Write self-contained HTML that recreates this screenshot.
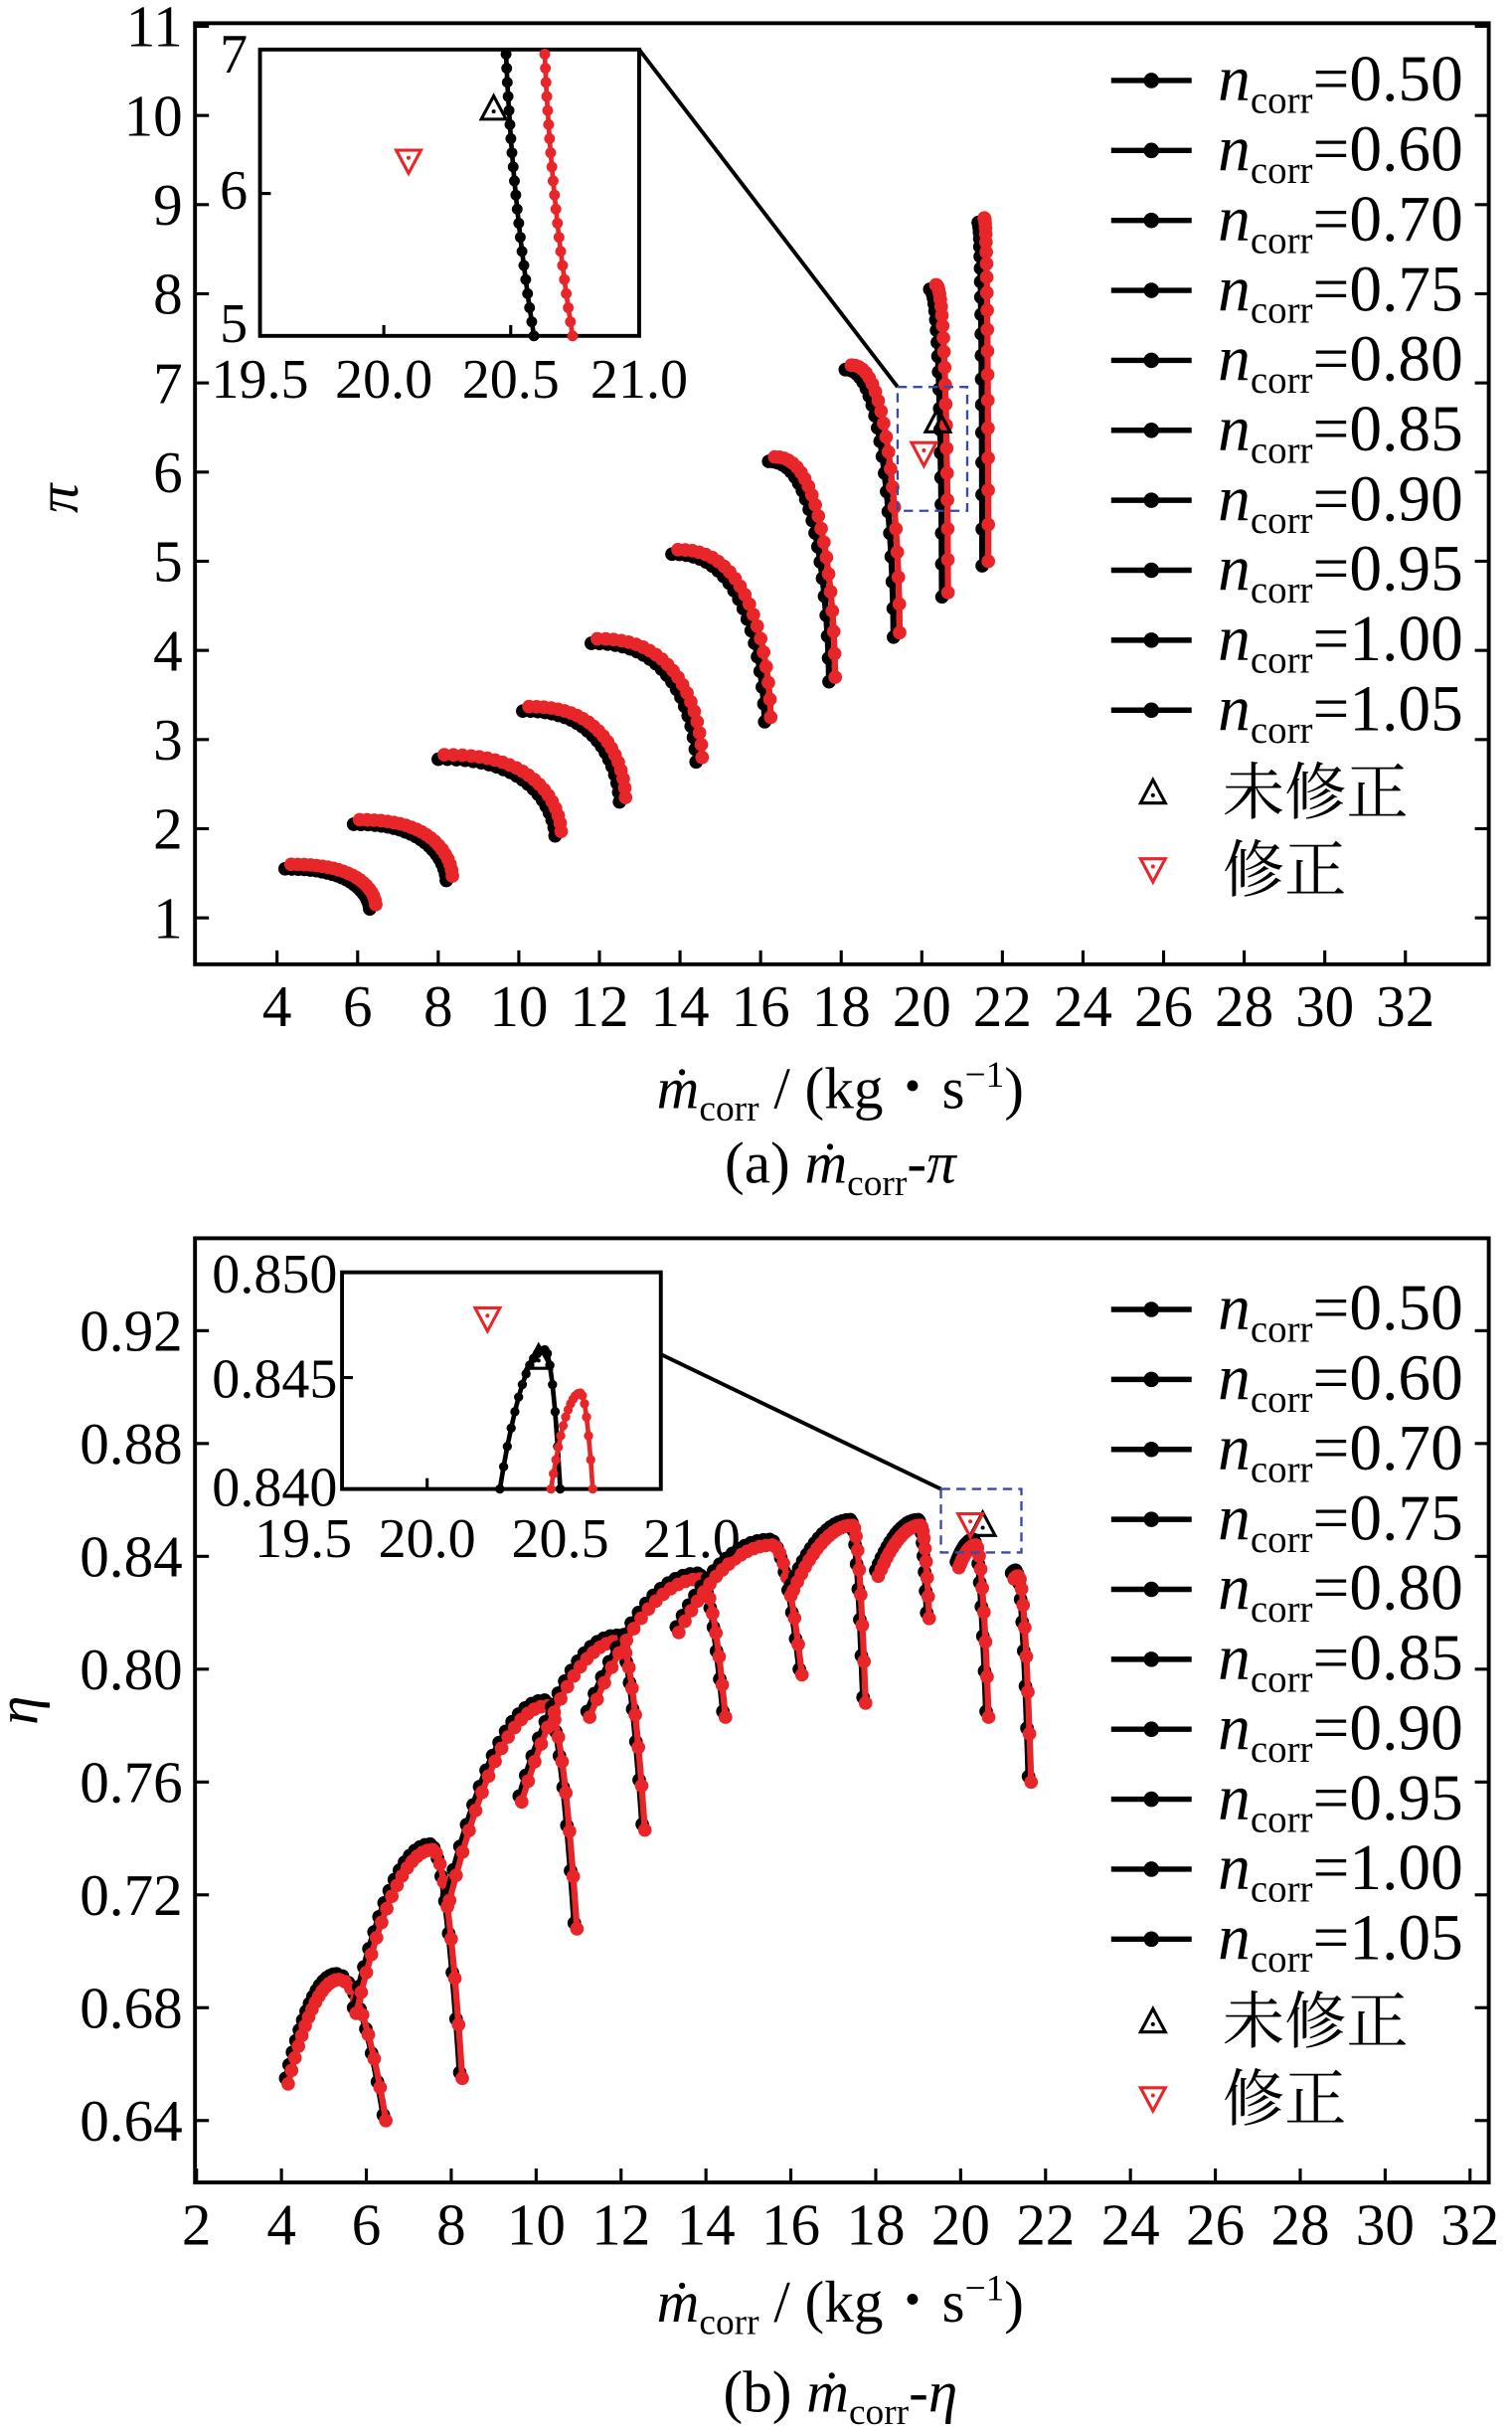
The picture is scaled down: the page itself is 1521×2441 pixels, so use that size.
<!DOCTYPE html>
<html><head><meta charset="utf-8"><style>
html,body{margin:0;padding:0;background:#fff;}
svg{display:block;font-family:"Liberation Serif","Noto Serif CJK SC",serif;}
</style></head><body>
<svg id="s" width="1521" height="2441" viewBox="0 0 977 1568" xmlns="http://www.w3.org/2000/svg"></svg>
<script>
(function(){
var s=document.getElementById('s'),h='';
function L(x1,y1,x2,y2,c,w,extra){h+='<line x1="'+x1+'" y1="'+y1+'" x2="'+x2+'" y2="'+y2+'" stroke="'+(c||'#000')+'" stroke-width="'+(w||2)+'" '+(extra||'')+'/>';}
function T(x,y,t,sz,anc,extra){h+='<text x="'+x+'" y="'+y+'" font-size="'+sz+'" text-anchor="'+(anc||'middle')+'" '+(extra||'')+'>'+t+'</text>';}
function poly(pts,c,w){h+='<polyline fill="none" stroke="'+c+'" stroke-width="'+w+'" stroke-linejoin="round" points="'+pts.map(function(p){return p[0].toFixed(1)+','+p[1].toFixed(1)}).join(' ')+'"/>';}
function marks(pts,c,r,step){for(var i=0;i<pts.length;i+=step)h+='<circle cx="'+pts[i][0].toFixed(1)+'" cy="'+pts[i][1].toFixed(1)+'" r="'+r+'" fill="'+c+'"/>';}
function tri(x,y,c,down){var d=down?'M'+(x-8)+','+(y-7)+' L'+(x+8)+','+(y-7)+' L'+x+','+(y+8)+' Z':'M'+(x-8)+','+(y+7)+' L'+(x+8)+','+(y+7)+' L'+x+','+(y-8)+' Z';h+='<path d="'+d+'" fill="none" stroke="'+c+'" stroke-width="2"/><circle cx="'+x+'" cy="'+(down?y-2:y+2)+'" r="1.3" fill="'+c+'"/>';}
function X1(m){return 179+(m-4)*26.04;} function Y1(p){return 593-(p-1)*57.6;}
h+='<rect x="126" y="15" width="836" height="608" fill="none" stroke="#000" stroke-width="2.5"/>';
for(var m=4;m<=32;m+=2){L(X1(m),623,X1(m),614);T(X1(m),663,m,38);}
for(var p=1;p<=11;p++){L(126,Y1(p),135,Y1(p));L(962,Y1(p),953,Y1(p));T(118,Y1(p)+13,p,38,'end');}
var topC=[[4.2,1.55,6.3,1.1],[5.9,2.05,8.2,1.42],[8.0,2.78,10.9,1.92],[10.1,3.32,12.5,2.3],[11.8,4.08,14.4,2.75],[13.8,5.08,16.1,3.2],[16.2,6.12,17.7,3.65],[18.1,7.15,19.3,4.15],[20.2,8.05,20.5,4.6],[21.4,8.8,21.5,4.95]];
topC.forEach(function(c){
 [[0,0,'#000'],[0.15,0.05,'#e8262a']].forEach(function(o){
  var pts=[];for(var i=0;i<=40;i++){var t=i/40;var mm=c[0]+o[0]+(c[2]-c[0])*(1-Math.pow(1-t,1.6));var pp=c[1]+o[1]-(c[1]-c[3])*Math.pow(t,2.2);pts.push([X1(mm),Y1(pp)]);}
  poly(pts,o[2],4);marks(pts,o[2],4.4,2);
 });
});
h+='<rect x="168" y="32" width="245" height="185" fill="#fff" stroke="#000" stroke-width="2.5"/>';
[[327,'#000',345],[352,'#e8262a',370]].forEach(function(c){var pts=[];for(var i=0;i<=20;i++){var t=i/20;pts.push([c[0]+(c[2]-c[0])*t*t*0.6+(c[2]-c[0])*0.4*t,35+182*t]);}poly(pts,c[1],3);marks(pts,c[1],3.5,1);});
tri(319,70,'#000',false);tri(264,104,'#e8262a',true);
T(160,47,'7',36,'end');T(160,135,'6',36,'end');T(160,221,'5',36,'end');
L(168,125,175,125);L(248,217,248,210);L(330,217,330,210);
T(168,257,'19.5',36);T(248,257,'20.0',36);T(330,257,'20.5',36);T(413,257,'21.0',36);
L(413,32,580,250,'#000',2.5);
h+='<rect x="580" y="250" width="45" height="80" fill="none" stroke="#3a4aa0" stroke-width="1.5" stroke-dasharray="6,4"/>';
tri(606,272,'#000',false);tri(597,293,'#e8262a',true);
function legend(y0){var vals=['0.50','0.60','0.70','0.75','0.80','0.85','0.90','0.95','1.00','1.05'];
 for(var i=0;i<10;i++){var y=y0+i*45.2;L(718,y,770,y,'#000',3.5);h+='<circle cx="744" cy="'+y+'" r="5" fill="#000"/>';
  h+='<text x="787" y="'+(y+13)+'" font-size="42"><tspan font-style="italic">n</tspan><tspan font-size="25" dy="8">corr</tspan><tspan dy="-8">='+vals[i]+'</tspan></text>';}
 var ya=y0+9*45.2+53;tri(745,ya,'#000',false);T(790,ya+14,'未修正',40,'start');
 tri(745,ya+50,'#e8262a',true);T(790,ya+64,'修正',40,'start');}
legend(52);
h+='<text x="543" y="716" font-size="38" text-anchor="middle"><tspan font-style="italic">ṁ</tspan><tspan font-size="24" dy="8">corr</tspan><tspan dy="-8"> / (kg・s</tspan><tspan font-size="24" dy="-14">−1</tspan><tspan dy="14">)</tspan></text>';
h+='<text x="543" y="764" font-size="38" text-anchor="middle">(a) <tspan font-style="italic">ṁ</tspan><tspan font-size="24" dy="8">corr</tspan><tspan dy="-8">-</tspan><tspan font-style="italic">π</tspan></text>';
T(50,322,'π',38,'middle','font-style="italic" transform="rotate(-90 50 322)"');
function X2(m){return 127+(m-2)*27.43;} function Y2(e){return 1370-(e-0.64)*1822.5;}
h+='<rect x="126" y="800" width="836" height="610" fill="none" stroke="#000" stroke-width="2.5"/>';
for(var m=2;m<=32;m+=2){L(X2(m),1410,X2(m),1401);T(X2(m),1450,m,38);}
for(var k=0;k<=7;k++){var e=0.64+k*0.04;L(126,Y2(e),135,Y2(e));L(962,Y2(e),953,Y2(e));T(118,Y2(e)+13,e.toFixed(2),38,'end');}
var bot=[[4.1,0.655,5.3,0.692,6.4,0.642],[5.7,0.68,7.5,0.738,8.2,0.657],[7.9,0.72,10.2,0.789,10.9,0.71],[9.6,0.755,11.9,0.812,12.5,0.745],[11.2,0.785,13.8,0.834,14.4,0.785],[13.3,0.815,15.5,0.846,16.2,0.8],[16.0,0.83,17.4,0.853,17.7,0.79],[18.0,0.835,19.0,0.853,19.2,0.82],[19.9,0.838,20.3,0.846,20.6,0.785],[21.2,0.834,21.3,0.835,21.6,0.762]];
bot.forEach(function(c){
 [[0,0,'#000'],[0.06,-0.002,'#e8262a']].forEach(function(o){
  var pts=[];for(var i=0;i<=30;i++){var t=i/30;pts.push([X2(c[0]+o[0]+(c[2]-c[0])*t),Y2(c[3]+o[1]-(c[3]-c[1])*Math.pow(1-t,2))]);}
  for(var i=1;i<=16;i++){var u=i/16;pts.push([X2(c[2]+o[0]+(c[4]-c[2])*u),Y2(c[3]+o[1]-(c[3]-c[5])*u*u)]);}
  poly(pts,o[2],4);marks(pts,o[2],4.4,2);
 });
});
h+='<rect x="221" y="822" width="206" height="140" fill="#fff" stroke="#000" stroke-width="2.5"/>';
[[323,352,362,872,'#000'],[356,375,383,900,'#e8262a']].forEach(function(c){var pts=[];for(var i=0;i<=12;i++){var t=i/12;pts.push([c[0]+(c[1]-c[0])*t,c[3]+(962-c[3])*Math.pow(1-t,2)]);}for(var i=1;i<=6;i++){var u=i/6;pts.push([c[1]+(c[2]-c[1])*u,c[3]+(962-c[3])*u*u]);}poly(pts,c[4],3);marks(pts,c[4],3,1);});
tri(348,877,'#000',false);tri(315,852,'#e8262a',true);
T(218,835,'0.850',36,'end');T(218,903,'0.845',36,'end');T(218,973,'0.840',36,'end');
L(221,890,228,890);L(276,962,276,955);L(362,962,362,955);
T(196,1006,'19.5',36);T(276,1006,'20.0',36);T(362,1006,'20.5',36);T(447,1006,'21.0',36);
L(427,875,608,962,'#000',2.5);
h+='<rect x="608" y="962" width="52" height="41" fill="none" stroke="#3a4aa0" stroke-width="1.5" stroke-dasharray="6,4"/>';
tri(635,985,'#000',false);tri(627,985,'#e8262a',true);
legend(846);
h+='<text x="543" y="1500" font-size="38" text-anchor="middle"><tspan font-style="italic">ṁ</tspan><tspan font-size="24" dy="8">corr</tspan><tspan dy="-8"> / (kg・s</tspan><tspan font-size="24" dy="-14">−1</tspan><tspan dy="14">)</tspan></text>';
h+='<text x="543" y="1558" font-size="38" text-anchor="middle">(b) <tspan font-style="italic">ṁ</tspan><tspan font-size="24" dy="8">corr</tspan><tspan dy="-8">-</tspan><tspan font-style="italic">η</tspan></text>';
T(24,1105,'η',38,'middle','font-style="italic" transform="rotate(-90 24 1105)"');
s.innerHTML=h;
})();
</script>
</body></html>
